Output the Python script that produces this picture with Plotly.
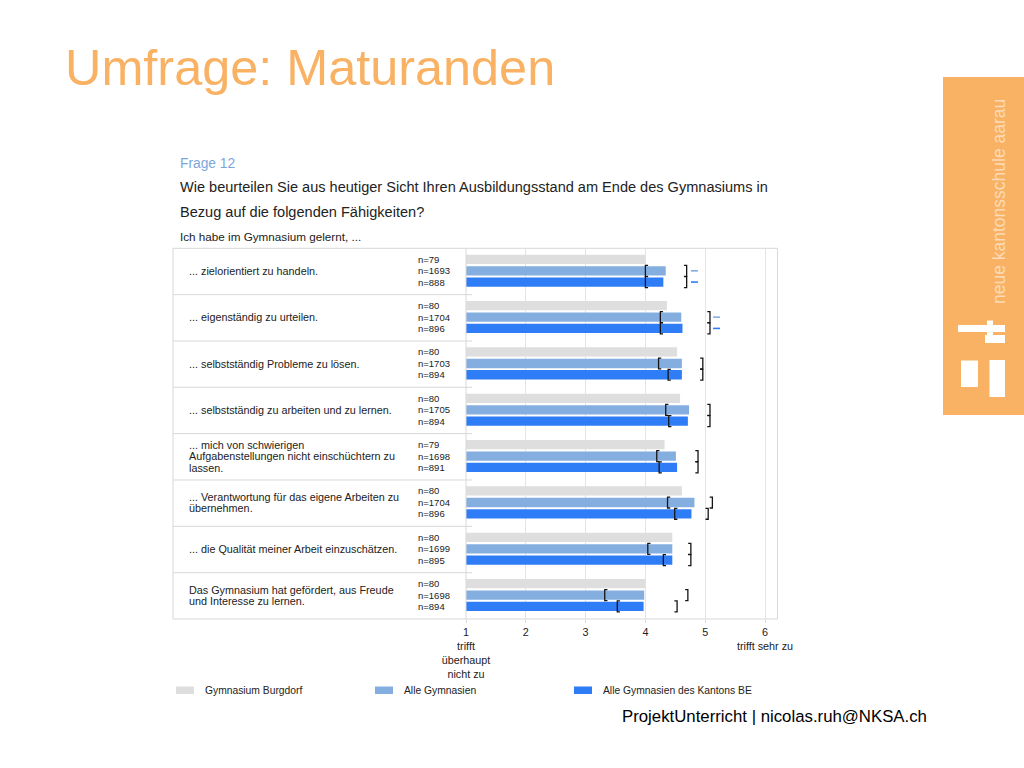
import plotly.graph_objects as go

# ---------------- data ----------------
items = [
    "... zielorientiert zu handeln.",
    "... eigenständig zu urteilen.",
    "... selbstständig Probleme zu lösen.",
    "... selbstständig zu arbeiten und zu lernen.",
    "... mich von schwierigen<br>Aufgabenstellungen nicht einschüchtern zu<br>lassen.",
    "... Verantwortung für das eigene Arbeiten zu<br>übernehmen.",
    "... die Qualität meiner Arbeit einzuschätzen.",
    "Das Gymnasium hat gefördert, aus Freude<br>und Interesse zu lernen.",
]
series_names = ["Gymnasium Burgdorf", "Alle Gymnasien", "Alle Gymnasien des Kantons BE"]

mean_burgdorf = [4.00, 4.36, 4.53, 4.58, 4.32, 4.61, 4.45, 4.00]
mean_alle = [4.34, 4.60, 4.61, 4.73, 4.51, 4.82, 4.45, 3.98]
mean_be = [4.30, 4.62, 4.61, 4.71, 4.53, 4.77, 4.45, 3.97]

n_burgdorf = [79, 80, 80, 80, 79, 80, 80, 80]
n_alle = [1693, 1704, 1703, 1705, 1698, 1704, 1699, 1698]
n_be = [888, 896, 894, 894, 891, 896, 895, 894]

lo_alle = [4.00, 4.25, 4.22, 4.34, 4.19, 4.37, 4.04, 3.32]
hi_alle = [4.69, 5.08, 4.96, 5.08, 4.88, 5.12, 4.76, 4.71]
lo_be = [4.00, 4.25, 4.38, 4.39, 4.23, 4.49, 4.30, 3.53]
hi_be = [4.69, 5.08, 4.96, 5.08, 4.88, 5.05, 4.76, 4.53]

sig_alle = [4.82, 5.19, None, None, None, None, None, None]
sig_be = [4.82, 5.19, None, None, None, None, None, None]

tick_vals = [1, 2, 3, 4, 5, 6]
tick_text = ["1<br>trifft<br>überhaupt<br>nicht zu", "2", "3", "4", "5", "6<br>trifft sehr zu"]

# ---------------- styles ----------------
W, H = 1024, 768
FONT = "Liberation Sans, Arial, sans-serif"
ORANGE = "#F9B264"
C_GREY = "#DEDEDE"
C_LB = "#84AEE0"
C_BLUE = "#2E7CF6"
LINE = "#D8D8D8"
TXT = "#222222"

PX_L, PX_R = 466, 777.5      # plot area in pixels
PX_T, PX_B = 248.3, 619
X_RANGE = [1, 1 + (PX_R - PX_L) / 59.8]
NROW = len(items)

def px(x):
    return x / W

def py(y):
    return 1 - y / H

offsets = [0.237, 0.486, 0.729]   # bar centres inside a row (row units)
bar_w = 0.2
colors = [C_GREY, C_LB, C_BLUE]
means = [mean_burgdorf, mean_alle, mean_be]
ns = [n_burgdorf, n_alle, n_be]

fig = go.Figure()

for k in range(3):
    fig.add_trace(go.Bar(
        orientation="h",
        y=[i + offsets[k] for i in range(NROW)],
        x=means[k],
        width=bar_w,
        marker=dict(color=colors[k], line=dict(width=0)),
        name=series_names[k],
        showlegend=False,
    ))

# brackets (interval marks)
serif = 0.045
half = 0.118
for k, (los, his) in zip([1, 2], [(lo_alle, hi_alle), (lo_be, hi_be)]):
    xs, ys = [], []
    for i in range(NROW):
        yc = i + offsets[k]
        lo, hi = los[i], his[i]
        xs += [lo + serif, lo, lo, lo + serif, None]
        ys += [yc - half, yc - half, yc + half, yc + half, None]
        xs += [hi - serif, hi, hi, hi - serif, None]
        ys += [yc - half, yc - half, yc + half, yc + half, None]
    fig.add_trace(go.Scatter(x=xs, y=ys, mode="lines",
                             line=dict(color="#151515", width=1.3),
                             showlegend=False, hoverinfo="skip"))

# significance dashes
for k, sig in zip([1, 2], [sig_alle, sig_be]):
    xs = [s for s in sig if s is not None]
    ys = [i + offsets[k] for i, s in enumerate(sig) if s is not None]
    fig.add_trace(go.Scatter(x=xs, y=ys, mode="markers",
                             marker=dict(symbol="line-ew", size=5,
                                         line=dict(color=colors[k], width=1.6)),
                             showlegend=False, hoverinfo="skip"))

shapes = []
def hline(y0, x0, x1, color=LINE, w=1):
    shapes.append(dict(type="line", xref="paper", yref="paper",
                       x0=px(x0), x1=px(x1), y0=py(y0), y1=py(y0),
                       line=dict(color=color, width=w)))
def vline(x0, y0, y1, color=LINE, w=1):
    shapes.append(dict(type="line", xref="paper", yref="paper",
                       x0=px(x0), x1=px(x0), y0=py(y0), y1=py(y1),
                       line=dict(color=color, width=w)))
def rect(x0, y0, x1, y1, color):
    shapes.append(dict(type="rect", xref="paper", yref="paper",
                       x0=px(x0), x1=px(x1), y0=py(y0), y1=py(y1),
                       fillcolor=color, line=dict(width=0), layer="above"))

# table frame
hline(PX_T, 173, PX_R)
hline(PX_B, 173, PX_R)
vline(173, PX_T, PX_B)
vline(PX_L, PX_T, PX_B)
vline(PX_R, PX_T, PX_B)
for i in range(1, NROW):
    shapes.append(dict(type="line", xref="paper", yref="y",
                       x0=px(173), x1=px(472), y0=i, y1=i,
                       line=dict(color=LINE, width=1)))

# orange side panel + logo
rect(943, 77, 1024, 415, ORANGE)
rect(958, 325, 1005, 332, "white")
rect(987, 320.5, 993, 343, "white")
rect(985, 335, 1005, 343, "white")
rect(961, 360.5, 978, 387, "white")
rect(989.5, 360, 1005, 397, "white")

annotations = []
def text(x, y, s, size, color=TXT, xanchor="left", **kw):
    d = dict(xref="paper", yref="paper", x=px(x), y=py(y), text=s,
             showarrow=False, xanchor=xanchor, yanchor="middle",
             font=dict(family=FONT, size=size, color=color))
    d.update(kw)
    annotations.append(d)

text(63, 68, "Umfrage: Maturanden", 50.4, ORANGE)
text(998.5, 201.5, "neue kantonsschule aarau", 17.5, "rgba(255,255,255,0.55)",
     xanchor="center", textangle=-90)
text(178, 164, "Frage 12", 13.8, "#7DA7DA")
text(178, 187, "Wie beurteilen Sie aus heutiger Sicht Ihren Ausbildungsstand am Ende des Gymnasiums in", 14.55)
text(178, 212, "Bezug auf die folgenden Fähigkeiten?", 14.55)
text(178, 236, "Ich habe im Gymnasium gelernt, ...", 11.7)
text(929, 716, "ProjektUnterricht | nicolas.ruh@NKSA.ch", 16.8, "#000000", xanchor="right")

# row labels (one annotation per line, tight line spacing)
line_gap = 0.245
for i, lab in enumerate(items):
    lines = lab.split("<br>")
    c = i + 0.49
    for j, ln in enumerate(lines):
        yv = c + (j - (len(lines) - 1) / 2) * line_gap
        annotations.append(dict(xref="paper", yref="y", x=px(187), y=yv, text=ln,
                                showarrow=False, xanchor="left", yanchor="middle",
                                font=dict(family=FONT, size=10.8, color=TXT)))
    for k in range(3):
        annotations.append(dict(xref="paper", yref="y", x=px(415.5), y=i + offsets[k],
                                text=f"n={ns[k][i]}", showarrow=False,
                                xanchor="left", yanchor="middle",
                                font=dict(family=FONT, size=9.5, color=TXT)))

# legend (manual)
leg_x = [176, 375, 574]
for k in range(3):
    rect(leg_x[k], 686.5, leg_x[k] + 18, 694, colors[k])
    text(leg_x[k] + 27, 690, series_names[k], 10.3)

fig.update_layout(
    width=W, height=H, autosize=False,
    margin=dict(l=0, r=0, t=0, b=0, pad=0, autoexpand=False),
    paper_bgcolor="white", plot_bgcolor="white",
    barmode="overlay", showlegend=False,
    shapes=shapes, annotations=annotations,
    font=dict(family=FONT, color=TXT),
    xaxis=dict(domain=[px(PX_L), px(PX_R)], range=X_RANGE, automargin=False,
               tickvals=tick_vals, ticktext=tick_text,
               showgrid=True, gridcolor="#E4E4E4", gridwidth=1,
               zeroline=False, showline=False,
               ticks="outside", ticklen=3, tickcolor="#D8D8D8",
               tickfont=dict(family=FONT, size=10.8, color=TXT)),
    yaxis=dict(domain=[py(PX_B), py(PX_T)], range=[NROW, 0], automargin=False,
               showticklabels=False, showgrid=False, zeroline=False,
               showline=False, ticks=""),
)

fig.write_html("out.html", config={"displayModeBar": False, "responsive": False},
               post_script="document.body.style.margin='0';document.body.style.overflow='hidden';")
